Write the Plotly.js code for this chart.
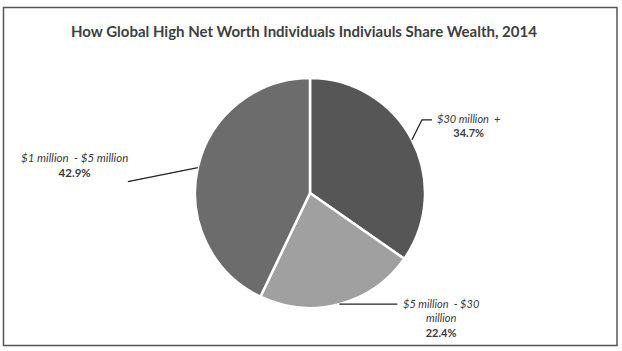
<!DOCTYPE html>
<html>
<head>
<meta charset="utf-8">
<script src="https://cdn.plot.ly/plotly-3.0.1.min.js"></script>
<style>html,body{margin:0;padding:0;background:#fff;}#chart{width:622px;height:351px;}</style>
</head>
<body>
<div id="chart"></div>
<script>
// ---- data ----
var categories = ["$30 million +", "$5 million - $30 million", "$1 million - $5 million"];
var shares = [34.7, 22.4, 42.9];
var labelLines = [["$30 million  +"], ["$5 million  - $30", "million"], ["$1 million  - $5 million"]];
var titleText = "How Global High Net Worth Individuals Indiviauls Share Wealth, 2014";

// ---- style ----
var sliceColors = ["#565656", "#a0a0a0", "#6c6c6c"];
var W = 622, H = 351;
var cx = 310, cy = 193, R = 115;
var fontFam = "Lato, 'Open Sans', sans-serif";
var textCol = "#3a3a3a";

function px(x){ return x / W; }
function py(y){ return 1 - y / H; }

var total = shares.reduce(function(a,b){return a+b;}, 0);
var cum = 0;
var shapes = [], annotations = [];
// label layout per slice: elbow offset and label placement
var leader = [
  {dx: 10, dy: -20, hx: 10, tx: 3, ty: 6, anchor: 'left', size: 11},
  {dx: 0, dy: 0, hx: 58, tx: 44, ty: 14, anchor: 'center', size: 11},
  {dx: -70, dy: 14, hx: 0, tx: -53, ty: -17, anchor: 'center', size: 11.5}
];
for (var i = 0; i < shares.length; i++) {
  var mid = (cum + shares[i] / 2) / total * 2 * Math.PI;
  cum += shares[i];
  var sx = cx + R * Math.sin(mid), sy = cy - R * Math.cos(mid);
  var L = leader[i];
  var ex = sx + L.dx, ey = sy + L.dy;
  var hx = ex + L.hx;
  shapes.push({type:'path', xref:'paper', yref:'paper',
    path: 'M' + px(sx) + ',' + py(sy) + ' L' + px(ex) + ',' + py(ey) + ' L' + px(hx) + ',' + py(ey),
    line:{color:'#222', width:1.3}});
  var txt = labelLines[i].map(function(s){return '<i>' + s + '</i>';}).join('<br>') +
            '<br><b>' + shares[i].toFixed(1) + '%</b>';
  annotations.push({xref:'paper', yref:'paper', x: px(hx + L.tx), y: py(ey + L.ty),
    xanchor: L.anchor, yanchor: 'middle', showarrow:false, align:'center',
    text: txt, font:{family: fontFam, size: L.size, color: textCol}});
}

annotations.push({xref:'paper', yref:'paper', x: px(304), y: py(31), xanchor:'center', yanchor:'middle',
  showarrow:false, text:'<b>' + titleText + '</b>', font:{family: fontFam, size: 15, color: '#404040'}});

// frame
shapes.push({type:'rect', xref:'paper', yref:'paper', x0: px(3.5), x1: px(617), y0: py(345.5), y1: py(7.5),
  line:{color:'#555', width:1.5}, fillcolor:'rgba(0,0,0,0)', layer:'below'});

var trace = {
  type: 'pie',
  labels: categories,
  values: shares,
  sort: false,
  direction: 'clockwise',
  rotation: 0,
  textinfo: 'none',
  hoverinfo: 'label+percent',
  marker: {colors: sliceColors, line: {color: '#fff', width: 2.5}},
  domain: {x: [px(cx - R), px(cx + R)], y: [py(cy + R), py(cy - R)]},
  showlegend: false
};

var layout = {
  width: W, height: H,
  margin: {l:0, r:0, t:0, b:0},
  paper_bgcolor: '#fff',
  shapes: shapes,
  annotations: annotations,
  showlegend: false
};
Plotly.newPlot('chart', [trace], layout, {displayModeBar:false, staticPlot:true});
</script>
</body>
</html>
